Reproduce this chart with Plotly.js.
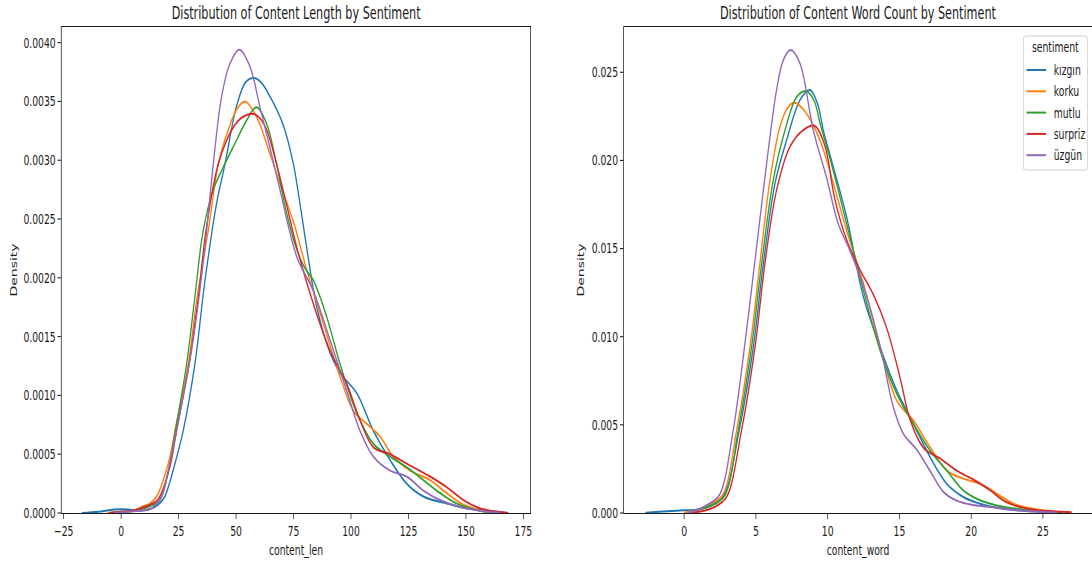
<!DOCTYPE html>
<html>
<head>
<meta charset="utf-8">
<script src="https://cdn.plot.ly/plotly-3.0.1.min.js"></script>
<style>
  html, body { margin: 0; padding: 0; background: #ffffff; overflow: hidden; }
  /* The figure is laid out on a wide canvas and shown horizontally condensed */
  #frame { width: 1092px; height: 566px; overflow: hidden; position: relative; }
  #chart { width: 1655px; height: 566px; transform: scaleX(0.659819); transform-origin: 0 0; }
</style>
</head>
<body>
<div id="frame"><div id="chart"></div></div>
<script>
// Sentiment classes and their colours
const categories = ['kızgın', 'korku', 'mutlu', 'surpriz', 'üzgün'];
const palette = ['#1f77b4', '#ff7f0e', '#2ca02c', '#d62728', '#9467bd'];

// KDE of content length (characters) per sentiment
const lenX_kizgin = [-17, -10, -3, 3, 8, 12, 16, 19, 23.4, 27, 32.1, 36.5, 41.5, 45.2, 50.2, 54, 57.8, 61, 64.8, 70.5, 74.9, 77.8, 80.7, 85, 90.9, 95.2, 102.5, 109.7, 117, 124.2, 131.5, 141.6, 150.3, 160, 168.5];
const lenY_kizgin = [0, 0.00001, 0.00003, 0.00003, 0.00002, 0.00003, 0.00007, 0.00014, 0.00042, 0.00070, 0.00127, 0.00198, 0.00263, 0.00297, 0.00346, 0.00366, 0.00370, 0.00366, 0.00354, 0.00330, 0.00297, 0.00263, 0.00226, 0.00176, 0.00136, 0.00119, 0.00102, 0.00070, 0.00045, 0.00025, 0.00014, 0.00008, 0.00004, 0.00002, 0];

const lenX_korku = [-6, 0, 5, 10, 12.5, 15.4, 20.5, 23.4, 29.2, 33.1, 37.9, 42.3, 46.6, 50.5, 53.9, 58.9, 64.8, 69.1, 74.9, 80.7, 88, 95.2, 101, 106.8, 112.6, 118.4, 125.7, 134.4, 141.6, 148.9, 155, 160, 166];
const lenY_korku = [0, 0.00001, 0.00002, 0.00006, 0.00008, 0.00014, 0.00042, 0.00070, 0.00127, 0.00184, 0.00240, 0.00297, 0.00326, 0.00344, 0.00350, 0.00337, 0.00305, 0.00280, 0.00248, 0.00207, 0.00161, 0.00116, 0.00087, 0.00076, 0.00065, 0.00048, 0.00036, 0.00028, 0.00017, 0.00007, 0.00003, 0.00001, 0];

const lenX_mutlu = [-5, 0, 5, 10, 12.5, 16.9, 20.5, 24.4, 28.5, 32.1, 35.7, 40.1, 44.4, 50.2, 54.6, 58.9, 63.3, 67.6, 72, 76.4, 80, 83.6, 89.4, 95.2, 102.5, 109.7, 117, 124.2, 131.5, 138.7, 146, 156, 165];
const lenY_mutlu = [0, 0.00001, 0.00002, 0.00004, 0.00006, 0.00011, 0.00036, 0.00079, 0.00127, 0.00184, 0.00240, 0.00275, 0.00294, 0.00317, 0.00334, 0.00345, 0.00331, 0.00297, 0.00255, 0.00224, 0.00208, 0.00198, 0.00167, 0.00127, 0.00085, 0.00059, 0.00048, 0.00039, 0.00028, 0.00017, 0.00008, 0.00002, 0];

const lenX_surpriz = [-5, 0, 5, 10, 12.5, 16.2, 21.2, 24.1, 29.6, 33.6, 36.9, 42.3, 48.8, 53.1, 58.2, 62.6, 67.6, 72, 76.4, 83.6, 90.9, 98.1, 103.9, 109.7, 117, 124.2, 134.4, 141.6, 148.9, 156, 163.4, 168];
const lenY_surpriz = [0, 0.00001, 0.00002, 0.00005, 0.00007, 0.00012, 0.00039, 0.00070, 0.00127, 0.00184, 0.00240, 0.00297, 0.00328, 0.00337, 0.00339, 0.00329, 0.00297, 0.00262, 0.00226, 0.00178, 0.00138, 0.00110, 0.00079, 0.00056, 0.00050, 0.00042, 0.00031, 0.00022, 0.00011, 0.00004, 0.00001, 0];

const lenX_uzgun = [-3, 3, 8, 12, 14, 17.6, 21.2, 25.6, 30.7, 34.3, 37.2, 40.1, 43.7, 47.3, 51.4, 56, 60.4, 64.8, 69.1, 76.4, 83.6, 90.9, 98.1, 103.9, 109.7, 117, 124.2, 131.5, 138.7, 147.4, 156, 165];
const lenY_uzgun = [0, 0.00001, 0.00002, 0.00003, 0.00005, 0.00014, 0.00042, 0.00085, 0.00139, 0.00190, 0.00240, 0.00297, 0.00354, 0.00382, 0.00394, 0.00380, 0.00345, 0.00310, 0.00275, 0.00218, 0.00189, 0.00147, 0.00104, 0.00070, 0.00048, 0.00036, 0.00031, 0.00019, 0.00011, 0.00005, 0.00002, 0];

// KDE of content word count per sentiment
const wordX_kizgin = [-2.7, -1.5, 0, 1, 1.8, 2.77, 3.84, 4.82, 5.52, 6.33, 7.14, 8.07, 8.77, 9.3, 9.7, 10.2, 11.32, 12.49, 13.65, 14.81, 15.97, 17.13, 18.29, 19.45, 20.62, 22.24, 24.1, 26];
const wordY_kizgin = [0.00002, 0.00008, 0.00015, 0.0002, 0.0004, 0.0010, 0.00469, 0.00942, 0.01415, 0.01869, 0.02115, 0.02342, 0.02399, 0.0232, 0.0217, 0.0202, 0.0168, 0.01226, 0.00942, 0.00696, 0.00507, 0.00318, 0.00166, 0.00091, 0.00053, 0.00024, 0.0001, 0.00002];

const wordX_korku = [0, 1, 1.8, 2.73, 3.66, 4.59, 5.28, 5.98, 6.68, 7.26, 7.72, 8.3, 9.0, 9.7, 10.4, 11.32, 12.49, 13.65, 14.81, 15.97, 17.13, 18.29, 19.45, 20.62, 21.78, 22.94, 24.57, 26.4];
const wordY_korku = [0.00002, 0.0002, 0.0005, 0.00109, 0.00469, 0.00942, 0.01415, 0.01888, 0.02191, 0.02304, 0.02327, 0.0229, 0.0220, 0.0206, 0.0187, 0.01604, 0.01302, 0.00942, 0.00639, 0.00526, 0.00374, 0.00242, 0.00195, 0.00166, 0.0011, 0.00053, 0.0002, 0.00002];

const wordX_mutlu = [0.3, 1, 1.8, 2.84, 3.77, 4.7, 5.4, 6.21, 7.03, 7.84, 8.54, 9.1, 9.47, 10.2, 11.32, 12.49, 13.65, 14.81, 15.97, 17.13, 18.29, 19.45, 20.62, 21.78, 23.17, 25, 26.4];
const wordY_mutlu = [0.00002, 0.0002, 0.0004, 0.0010, 0.00469, 0.00942, 0.01415, 0.01888, 0.02172, 0.0236, 0.02393, 0.0233, 0.0221, 0.0200, 0.01642, 0.01264, 0.00923, 0.00677, 0.00507, 0.00355, 0.00242, 0.00128, 0.00072, 0.00043, 0.00024, 0.0001, 0.00002];

const wordX_surpriz = [0.5, 1.2, 2, 2.96, 4.0, 4.94, 5.63, 6.44, 7.37, 8.3, 9.12, 9.82, 10.5, 11.32, 12.25, 13.18, 14.11, 15.04, 15.74, 16.67, 17.83, 18.99, 20.15, 21.31, 22.48, 24.1, 26.4, 27];
const wordY_surpriz = [0.00002, 0.0001, 0.0003, 0.00091, 0.00469, 0.00942, 0.01415, 0.01831, 0.02077, 0.02172, 0.02195, 0.0208, 0.0178, 0.0155, 0.0138, 0.0124, 0.0105, 0.0077, 0.0053, 0.0037, 0.0031, 0.0024, 0.0019, 0.0013, 0.0006, 0.00022, 0.00007, 0.00004];

const wordX_uzgun = [0.3, 1, 1.7, 2.5, 3.42, 4.35, 5.05, 5.75, 6.44, 6.91, 7.42, 8.07, 9.0, 9.93, 10.74, 11.49, 12.49, 13.65, 14.58, 15.27, 16.2, 17.13, 18.06, 18.99, 20.15, 21.78, 23.17, 25, 26];
const wordY_uzgun = [0.00002, 0.0002, 0.0005, 0.00109, 0.00469, 0.01037, 0.0151, 0.01983, 0.02399, 0.02569, 0.02626, 0.02551, 0.02172, 0.0190, 0.0164, 0.0150, 0.0129, 0.0095, 0.0060, 0.0045, 0.0036, 0.0024, 0.0012, 0.0007, 0.00045, 0.0003, 0.00015, 0.00006, 0.00002];

const lenXs = [lenX_kizgin, lenX_korku, lenX_mutlu, lenX_surpriz, lenX_uzgun];
const lenYs = [lenY_kizgin, lenY_korku, lenY_mutlu, lenY_surpriz, lenY_uzgun];
const wordXs = [wordX_kizgin, wordX_korku, wordX_mutlu, wordX_surpriz, wordX_uzgun];
const wordYs = [wordY_kizgin, wordY_korku, wordY_mutlu, wordY_surpriz, wordY_uzgun];

const FONT = 'DejaVu Sans, sans-serif';
const ink = '#1a1a1a';
const W = 1655, H = 566;
const M = { l: 0, r: 0, t: 27, b: 53 };
const plotH = H - M.t - M.b;
// helpers: shown-pixel position -> paper fraction
const px = v => v / 1092;
const py = v => (H - M.b - v) / plotH;

const traces = [];
categories.forEach((name, i) => {
  traces.push({
    type: 'scatter', mode: 'lines', name: name,
    x: lenXs[i], y: lenYs[i], xaxis: 'x', yaxis: 'y',
    line: { color: palette[i], width: 2, shape: 'spline', smoothing: 1 },
    showlegend: false
  });
});
categories.forEach((name, i) => {
  traces.push({
    type: 'scatter', mode: 'lines', name: name,
    x: wordXs[i], y: wordYs[i], xaxis: 'x2', yaxis: 'y2',
    line: { color: palette[i], width: 2, shape: 'spline', smoothing: 1 },
    showlegend: false
  });
});

const axisBase = {
  showgrid: false, zeroline: false, showline: true, linecolor: ink, linewidth: 1.1,
  ticks: 'outside', ticklen: 5, tickwidth: 1.1, tickcolor: ink,
  tickfont: { family: FONT, size: 14, color: ink },
  automargin: false
};

// rounded frame for the key, in paper fractions
function roundedBox(x0, x1, yTop, yBot, r) {
  const L = px(x0), R = px(x1), T = py(yTop), B = py(yBot);
  const rx = px(r), ry = r / plotH;
  return `M ${L + rx} ${T} L ${R - rx} ${T} Q ${R} ${T} ${R} ${T - ry} ` +
         `L ${R} ${B + ry} Q ${R} ${B} ${R - rx} ${B} L ${L + rx} ${B} ` +
         `Q ${L} ${B} ${L} ${B + ry} L ${L} ${T - ry} Q ${L} ${T} ${L + rx} ${T} Z`;
}

// legend drawn as a framed key in the upper right of the word-count panel
const legendShapes = [{
  type: 'path', xref: 'paper', yref: 'paper',
  path: roundedBox(1023.5, 1087.5, 36, 170, 3),
  line: { color: '#cccccc', width: 1.1 }, fillcolor: 'rgba(255,255,255,0.8)', layer: 'above'
}];
const legendNotes = [{
  text: 'sentiment', xref: 'paper', yref: 'paper', x: px(1055.5), y: py(47),
  xanchor: 'center', yanchor: 'middle', showarrow: false,
  font: { family: FONT, size: 14, color: ink }
}];
categories.forEach((name, i) => {
  const yc = 70 + i * 21.3;
  legendShapes.push({
    type: 'line', xref: 'paper', yref: 'paper',
    x0: px(1026.5), x1: px(1046), y0: py(yc), y1: py(yc),
    line: { color: palette[i], width: 2 }, layer: 'above'
  });
  legendNotes.push({
    text: name, xref: 'paper', yref: 'paper', x: px(1052.5), y: py(yc),
    xanchor: 'left', yanchor: 'middle', showarrow: false,
    font: { family: FONT, size: 14, color: ink }
  });
});

const titleY = 1 + (M.t - 12.6) / plotH;

const layout = {
  width: W, height: H,
  margin: { l: M.l, r: M.r, t: M.t, b: M.b, pad: 0 },
  paper_bgcolor: '#ffffff', plot_bgcolor: '#ffffff',
  font: { family: FONT, color: ink },
  showlegend: false,
  xaxis: Object.assign({}, axisBase, {
    domain: [px(61.6), px(530.3)], range: [-25.9, 178.0],
    tick0: 0, dtick: 25, mirror: true, anchor: 'y',
    title: { text: 'content_len', font: { family: FONT, size: 14, color: ink }, standoff: 7 }
  }),
  yaxis: Object.assign({}, axisBase, {
    domain: [0, 1], range: [0, 0.004133], tick0: 0, dtick: 0.0005,
    tickformat: '.4f', mirror: true, anchor: 'x',
    title: { text: 'Density', font: { family: FONT, size: 14, color: ink }, standoff: 5 }
  }),
  xaxis2: Object.assign({}, axisBase, {
    domain: [px(624), 1], range: [-4.19, 28.42],
    tick0: 0, dtick: 5, mirror: true, anchor: 'y2',
    title: { text: 'content_word', font: { family: FONT, size: 14, color: ink }, standoff: 7 }
  }),
  yaxis2: Object.assign({}, axisBase, {
    domain: [0, 1], range: [0, 0.02757], tick0: 0, dtick: 0.005,
    tickformat: '.3f', mirror: false, anchor: 'x2',
    title: { text: 'Density', font: { family: FONT, size: 14, color: ink }, standoff: 7 }
  }),
  shapes: legendShapes,
  annotations: [
    {
      text: 'Distribution of Content Length by Sentiment',
      xref: 'x domain', yref: 'paper', x: 0.5, y: titleY, xanchor: 'center', yanchor: 'middle',
      showarrow: false, font: { family: FONT, size: 17, color: ink }
    },
    {
      text: 'Distribution of Content Word Count by Sentiment',
      xref: 'x2 domain', yref: 'paper', x: 0.5, y: titleY, xanchor: 'center', yanchor: 'middle',
      showarrow: false, font: { family: FONT, size: 17, color: ink }
    }
  ].concat(legendNotes)
};

Plotly.newPlot('chart', traces, layout, { staticPlot: true, displayModeBar: false });
</script>
</body>
</html>
